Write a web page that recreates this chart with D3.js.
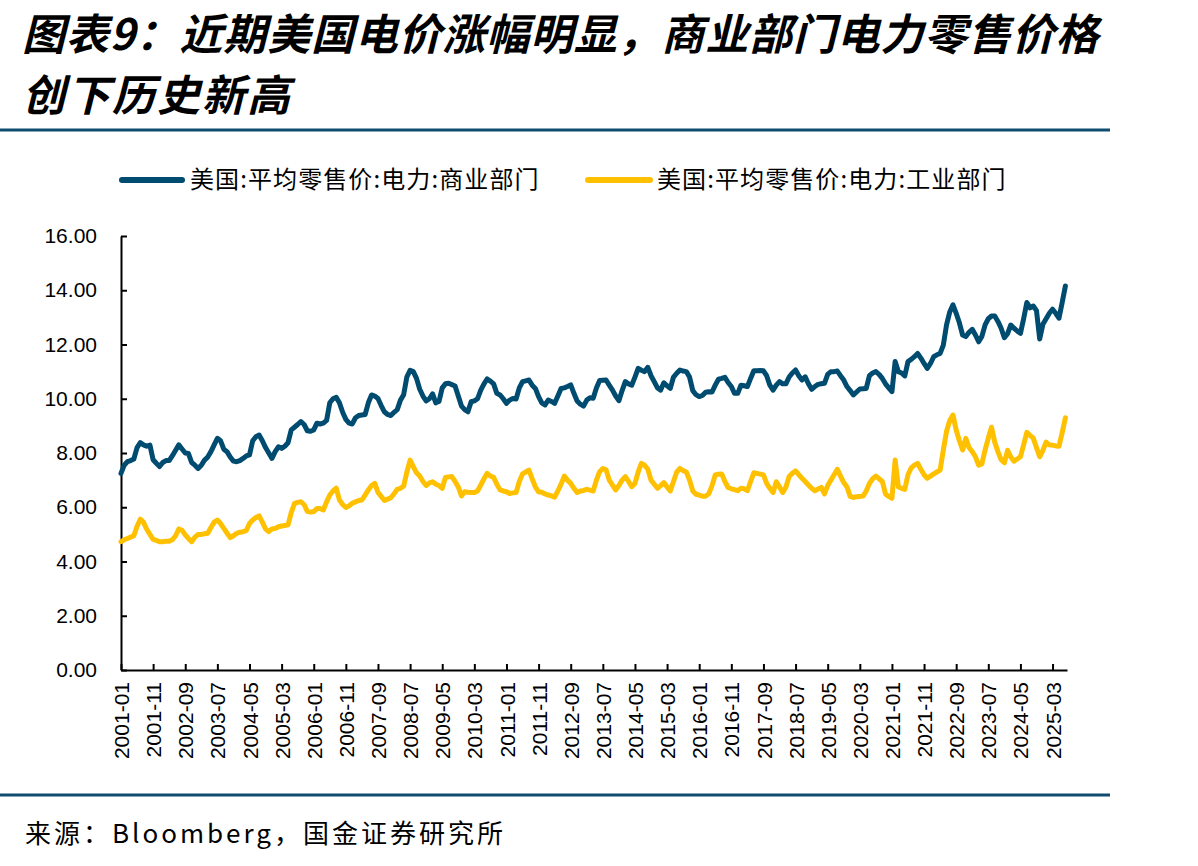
<!DOCTYPE html>
<html>
<head>
<meta charset="utf-8">
<script src="https://cdn.jsdelivr.net/npm/d3@7"></script>
<style>
  body { margin: 0; background: #fff; }
  svg { display: block; }
</style>
</head>
<body>
<svg id="chart" width="1198" height="866"></svg>
<script>
// ================= DATA (monthly, 2001-01 .. 2025-07, cents/kWh) =================
var seriesNames = ["美国:平均零售价:电力:商业部门", "美国:平均零售价:电力:工业部门"];

var commercial = [
  7.25, 7.55, 7.68, 7.72, 7.78, 8.20, 8.38, 8.30, 8.25, 8.29, 7.75, 7.62,   // 2001
  7.50, 7.65, 7.72, 7.72, 7.90, 8.10, 8.30, 8.15, 8.00, 7.98, 7.65, 7.55,   // 2002
  7.43, 7.55, 7.74, 7.85, 8.05, 8.30, 8.54, 8.45, 8.14, 8.05, 7.85, 7.70,   // 2003
  7.68, 7.72, 7.80, 7.89, 7.93, 8.45, 8.60, 8.66, 8.45, 8.20, 8.00, 7.80,   // 2004
  8.05, 8.23, 8.17, 8.25, 8.38, 8.85, 8.95, 9.05, 9.16, 9.05, 8.82, 8.80,   // 2005
  8.85, 9.10, 9.07, 9.10, 9.20, 9.85, 10.00, 10.05, 9.85, 9.50, 9.24, 9.10, // 2006
  9.07, 9.30, 9.38, 9.40, 9.42, 9.85, 10.14, 10.10, 10.01, 9.75, 9.52, 9.42, // 2007
  9.38, 9.50, 9.60, 9.95, 10.15, 10.81, 11.05, 11.00, 10.75, 10.35, 10.10, 9.92, // 2008
  10.00, 10.18, 9.85, 9.90, 10.40, 10.55, 10.57, 10.52, 10.47, 10.10, 9.73, 9.60, // 2009
  9.52, 9.89, 9.92, 10.00, 10.32, 10.55, 10.73, 10.65, 10.55, 10.20, 10.14, 10.00, // 2010
  9.83, 9.95, 10.01, 9.99, 10.40, 10.63, 10.66, 10.69, 10.50, 10.38, 10.08, 9.85, // 2011
  9.77, 9.95, 9.90, 9.83, 10.10, 10.38, 10.40, 10.45, 10.51, 10.20, 9.92, 9.80,   // 2012
  9.73, 9.95, 10.04, 10.02, 10.40, 10.67, 10.68, 10.69, 10.50, 10.32, 10.10, 9.93, // 2013
  10.30, 10.63, 10.55, 10.50, 10.80, 11.12, 11.05, 11.00, 11.16, 10.85, 10.63, 10.40, // 2014
  10.32, 10.59, 10.48, 10.38, 10.80, 10.94, 11.06, 11.02, 11.00, 10.80, 10.30, 10.15, // 2015
  10.08, 10.12, 10.24, 10.26, 10.25, 10.50, 10.72, 10.75, 10.79, 10.60, 10.45, 10.20, // 2016
  10.20, 10.50, 10.48, 10.45, 10.75, 11.03, 11.03, 11.04, 11.03, 10.85, 10.50, 10.32, // 2017
  10.50, 10.63, 10.55, 10.55, 10.80, 10.95, 11.06, 10.85, 10.69, 10.81, 10.55, 10.35, // 2018
  10.45, 10.53, 10.55, 10.57, 10.90, 11.00, 11.00, 11.02, 10.85, 10.69, 10.45, 10.30, // 2019
  10.14, 10.25, 10.36, 10.37, 10.38, 10.85, 10.95, 11.00, 10.90, 10.75, 10.55, 10.40, // 2020
  10.26, 11.37, 11.00, 10.95, 10.84, 11.37, 11.45, 11.55, 11.67, 11.50, 11.30, 11.12, // 2021
  11.30, 11.55, 11.62, 11.67, 11.98, 12.72, 13.20, 13.46, 13.15, 12.80, 12.35, 12.29, // 2022
  12.45, 12.56, 12.35, 12.10, 12.30, 12.72, 12.95, 13.05, 13.05, 12.85, 12.60, 12.25, // 2023
  12.40, 12.72, 12.60, 12.50, 12.41, 12.95, 13.55, 13.35, 13.42, 13.25, 12.20, 12.75, // 2024
  12.95, 13.15, 13.30, 13.15, 12.97, 13.55, 14.16                                     // 2025
];

var industrial = [
  4.73, 4.80, 4.85, 4.90, 4.95, 5.30, 5.56, 5.45, 5.19, 5.00, 4.82, 4.78,   // 2001
  4.73, 4.73, 4.75, 4.75, 4.80, 4.95, 5.20, 5.15, 4.98, 4.85, 4.73, 4.90,   // 2002
  5.00, 5.00, 5.02, 5.04, 5.25, 5.45, 5.53, 5.40, 5.22, 5.05, 4.88, 4.95,   // 2003
  5.04, 5.08, 5.10, 5.14, 5.40, 5.53, 5.62, 5.68, 5.45, 5.20, 5.10, 5.20,   // 2004
  5.22, 5.28, 5.31, 5.33, 5.35, 5.80, 6.14, 6.18, 6.20, 6.10, 5.85, 5.82,   // 2005
  5.84, 5.95, 5.95, 5.90, 6.20, 6.45, 6.60, 6.70, 6.27, 6.10, 5.99, 6.05,   // 2006
  6.15, 6.20, 6.25, 6.27, 6.45, 6.64, 6.80, 6.88, 6.55, 6.40, 6.25, 6.30,   // 2007
  6.35, 6.50, 6.66, 6.70, 6.78, 7.30, 7.74, 7.50, 7.27, 7.15, 6.95, 6.80,   // 2008
  6.90, 6.94, 6.85, 6.80, 6.70, 7.10, 7.12, 7.13, 6.95, 6.75, 6.42, 6.57,   // 2009
  6.55, 6.54, 6.54, 6.60, 6.82, 7.05, 7.25, 7.15, 7.10, 6.85, 6.64, 6.60,   // 2010
  6.57, 6.51, 6.53, 6.54, 6.95, 7.23, 7.30, 7.37, 7.05, 6.75, 6.57, 6.55,   // 2011
  6.49, 6.45, 6.42, 6.37, 6.60, 6.85, 7.15, 7.00, 6.88, 6.70, 6.54, 6.60,   // 2012
  6.62, 6.66, 6.63, 6.60, 7.00, 7.31, 7.43, 7.38, 7.00, 6.82, 6.64, 6.80,   // 2013
  7.00, 7.13, 6.95, 6.76, 6.88, 7.30, 7.62, 7.55, 7.40, 7.00, 6.85, 6.70,   // 2014
  6.80, 6.91, 6.75, 6.60, 6.95, 7.30, 7.43, 7.35, 7.30, 7.00, 6.60, 6.48,   // 2015
  6.45, 6.41, 6.41, 6.50, 6.80, 7.19, 7.22, 7.23, 6.95, 6.73, 6.68, 6.65,   // 2016
  6.61, 6.70, 6.68, 6.61, 6.95, 7.27, 7.25, 7.22, 7.19, 6.88, 6.70, 6.54,   // 2017
  6.94, 6.75, 6.54, 6.75, 7.13, 7.25, 7.34, 7.20, 7.07, 6.95, 6.82, 6.70,   // 2018
  6.61, 6.67, 6.73, 6.49, 6.80, 7.00, 7.20, 7.40, 7.15, 6.91, 6.75, 6.40,   // 2019
  6.36, 6.39, 6.40, 6.41, 6.60, 6.88, 7.05, 7.15, 7.05, 6.95, 6.49, 6.40,   // 2020
  6.33, 7.74, 6.75, 6.70, 6.66, 7.20, 7.45, 7.55, 7.62, 7.40, 7.20, 7.07,   // 2021
  7.15, 7.23, 7.30, 7.37, 8.11, 8.80, 9.20, 9.40, 8.85, 8.45, 8.11, 8.54,   // 2022
  8.20, 8.05, 7.86, 7.55, 7.60, 8.11, 8.55, 8.95, 8.40, 8.05, 7.75, 7.64,   // 2023
  8.10, 7.85, 7.70, 7.78, 7.86, 8.30, 8.76, 8.65, 8.55, 8.20, 7.86, 8.10,   // 2024
  8.40, 8.30, 8.29, 8.26, 8.25, 8.75, 9.30                                   // 2025
];

var tickLabels = ["2001-01","2001-11","2002-09","2003-07","2004-05","2005-03","2006-01",
  "2006-11","2007-09","2008-07","2009-05","2010-03","2011-01","2011-11","2012-09","2013-07",
  "2014-05","2015-03","2016-01","2016-11","2017-09","2018-07","2019-05","2020-03","2021-01",
  "2021-11","2022-09","2023-07","2024-05","2025-03"];
var yTicks = [0, 2, 4, 6, 8, 10, 12, 14, 16];

var colors = ["#004b70", "#ffc000"];
var ruleColor = "#0f4c6e";

// ================= SETUP =================
var svg = d3.select("#chart");
var plotLeft = 121, plotRight = 1067, plotTop = 236, plotBottom = 670;

// month index of "YYYY-MM"
function monthIndex(s) {
  var p = s.split("-");
  return (+p[0] - 2001) * 12 + (+p[1] - 1);
}

var x = d3.scaleLinear().domain([0, 294.5]).range([plotLeft, plotRight]);
var y = d3.scaleLinear().domain([0, 16]).range([plotBottom, plotTop]);

// ================= TITLE =================
var titleFont = "'Noto Sans CJK SC', sans-serif";
svg.append("text")
  .attr("x", 22).attr("y", 50)
  .attr("font-family", titleFont)
  .attr("font-size", 43).attr("font-weight", 700).attr("font-style", "italic")
  .attr("letter-spacing", 0.8)
  .attr("fill", "#000")
  .text("图表9：近期美国电价涨幅明显，商业部门电力零售价格");
svg.append("text")
  .attr("x", 22).attr("y", 111)
  .attr("font-family", titleFont)
  .attr("font-size", 43).attr("font-weight", 700).attr("font-style", "italic")
  .attr("letter-spacing", 2)
  .attr("fill", "#000")
  .text("创下历史新高");

svg.append("line")
  .attr("x1", 0).attr("x2", 1110).attr("y1", 130).attr("y2", 130)
  .attr("stroke", ruleColor).attr("stroke-width", 3);

// ================= LEGEND =================
var legendX = [[122, 182, 190], [588, 650, 657]];
seriesNames.forEach(function(name, i) {
  var g = svg.append("g");
  g.append("line")
    .attr("x1", legendX[i][0]).attr("x2", legendX[i][1])
    .attr("y1", 180).attr("y2", 180)
    .attr("stroke", colors[i]).attr("stroke-width", 6).attr("stroke-linecap", "round");
  g.append("text")
    .attr("x", legendX[i][2]).attr("y", 188)
    .attr("font-family", "'Noto Sans CJK SC', sans-serif")
    .attr("font-size", 24).attr("letter-spacing", 1.1).attr("fill", "#000")
    .text(name);
});

// ================= AXES =================
var axisFont = "'Liberation Sans', Arial, sans-serif";

var yAxis = svg.append("g")
  .attr("transform", "translate(" + plotLeft + ",0)")
  .call(d3.axisLeft(y).tickValues(yTicks).tickSize(-6).tickSizeOuter(0)
    .tickPadding(24).tickFormat(d3.format(".2f")));
yAxis.selectAll("text").attr("font-family", axisFont).attr("font-size", 21).attr("fill", "#000");

var xAxis = svg.append("g")
  .attr("transform", "translate(0," + plotBottom + ")")
  .call(d3.axisBottom(x).tickValues(tickLabels.map(monthIndex)).tickSize(-6).tickSizeOuter(0)
    .tickFormat(function(d, i) { return tickLabels[i]; }));
xAxis.selectAll("text")
  .attr("font-family", axisFont).attr("font-size", 21).attr("fill", "#000")
  .attr("text-anchor", "end")
  .attr("transform", "rotate(-90)")
  .attr("x", -12).attr("y", 0).attr("dy", "0.36em");

[yAxis, xAxis].forEach(function(a) {
  a.select(".domain").attr("stroke", "#000").attr("stroke-width", 2);
  a.selectAll(".tick line").attr("stroke", "#000").attr("stroke-width", 2);
});

// ================= LINES =================
var line = d3.line()
  .x(function(d, i) { return x(i); })
  .y(function(d) { return y(d); });

[commercial, industrial].forEach(function(series, i) {
  svg.append("path")
    .datum(series)
    .attr("fill", "none")
    .attr("stroke", colors[i])
    .attr("stroke-width", 5)
    .attr("stroke-linejoin", "round")
    .attr("stroke-linecap", "round")
    .attr("d", line);
});

// ================= SOURCE =================
svg.append("line")
  .attr("x1", 0).attr("x2", 1110).attr("y1", 795).attr("y2", 795)
  .attr("stroke", ruleColor).attr("stroke-width", 3);

svg.append("text")
  .attr("x", 25).attr("y", 843)
  .attr("font-family", "'Noto Sans CJK SC', sans-serif")
  .attr("font-size", 26).attr("letter-spacing", 3).attr("fill", "#000")
  .text("来源：Bloomberg，国金证券研究所");
</script>
</body>
</html>
